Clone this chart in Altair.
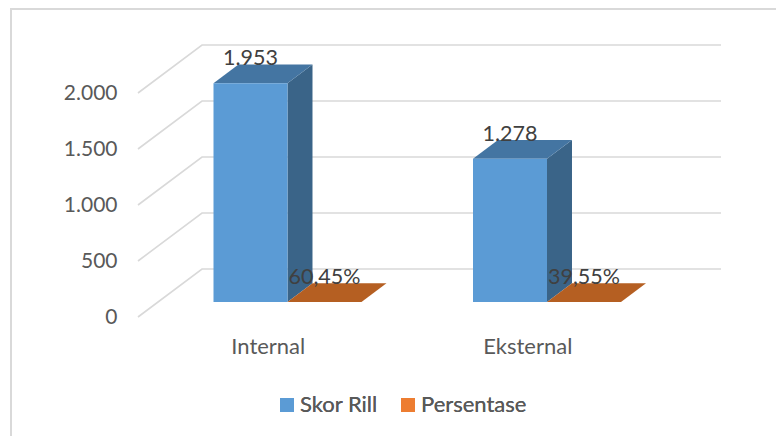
import altair as alt
import pandas as pd

categories = ["Internal", "Eksternal"]
series = ["Skor Rill", "Persentase"]
skor_rill = [1953, 1278]
persentase = [0.6045, 0.3955]
skor_labels = ["1.953", "1.278"]
persen_labels = ["60,45%", "39,55%"]
y_ticks = [0, 500, 1000, 1500, 2000]

FONT = "Lato"
FRONT = {"Skor Rill": "#5B9BD5", "Persentase": "#ED7D31"}
SIDE = {"Skor Rill": "#3A6488", "Persentase": "#9C5220"}
TOP = {"Skor Rill": "#4475A2", "Persentase": "#B55F22"}

# Oblique projection: one unit of depth shifts a point right and up the value axis.
PX_PER_VALUE = 56 / 500
BAND_PX = 259.5
WALL_X = 64 / BAND_PX
WALL_Y = 48 / PX_PER_VALUE
BAR_WIDTH = 74 / BAND_PX
GAP = 55.5 / BAND_PX
BAR_NEAR = 0.3125
BAR_FAR = 0.703
N = len(categories)

x_scale = alt.Scale(domain=[0, N + WALL_X], range=[0, 583], nice=False, zero=False)
y_scale = alt.Scale(domain=[0, 2000 + WALL_Y], range=[272, 0], nice=False, zero=False)

# Every layer shares these position channels, so the axes merge cleanly.
x_pos = alt.X(
    "x:Q",
    scale=x_scale,
    axis=alt.Axis(
        values=[i + 0.5 for i in range(N)],
        labelExpr=f"{categories}[datum.value - 0.5]",
        title=None, domain=False, ticks=False, grid=False,
        labelFont=FONT, labelFontSize=22, labelColor="#595959", labelPadding=19,
    ),
)
y_pos = alt.Y(
    "y:Q",
    scale=y_scale,
    axis=alt.Axis(
        values=y_ticks,
        labelExpr="replace(format(datum.value, ','), ',', '.')",
        title=None, domain=False, ticks=False, grid=False,
        labelFont=FONT, labelFontSize=21, labelColor="#595959", labelPadding=21,
    ),
)

# Floor diagonals and back-wall lines for each tick value.
grid_rows = []
for tick in y_ticks:
    for step, (gx, gy) in enumerate([(0, tick), (WALL_X, tick + WALL_Y), (N + WALL_X, tick + WALL_Y)]):
        grid_rows.append({"tick": tick, "step": step, "x": gx, "y": gy})
grid = (
    alt.Chart(pd.DataFrame(grid_rows))
    .mark_line(color="#D9D9D9", strokeWidth=1.6)
    .encode(x=x_pos, y=y_pos, detail="tick:N", order="step:Q")
)

# Build the faces of every column from its value.
front_rows, side_rows, top_rows, label_rows = [], [], [], []
for i, cat in enumerate(categories):
    for j, (name, values, labels) in enumerate(
        [(series[0], skor_rill, skor_labels), (series[1], persentase, persen_labels)]
    ):
        value = values[i]
        left = i + GAP + j * BAR_WIDTH
        right = left + BAR_WIDTH
        near_x, near_y = BAR_NEAR * WALL_X, BAR_NEAR * WALL_Y
        far_x, far_y = BAR_FAR * WALL_X, BAR_FAR * WALL_Y
        key = f"{cat}-{name}"
        front_rows.append({
            "series": name, "x": left + near_x, "x2": right + near_x,
            "y": value + near_y, "y2": near_y,
        })
        for dx, dy in [(near_x, near_y), (far_x, far_y)]:
            side_rows.append({
                "key": key, "shade": SIDE[name], "x": right + dx,
                "y": value + dy, "y2": dy,
            })
            top_rows.append({
                "key": key, "shade": TOP[name], "x": left + dx, "x2": right + dx,
                "y": value + dy,
            })
        label_rows.append({
            "text": labels[i], "x": (left + right) / 2 + near_x, "y": value + near_y,
        })

side_df = pd.DataFrame(side_rows)
top_df = pd.DataFrame(top_rows)
front_df = pd.DataFrame(front_rows)

layers = [grid]
for name in series:
    side = (
        alt.Chart(side_df[side_df["key"].str.endswith(name)])
        .mark_area(orient="vertical")
        .encode(x=x_pos, y=y_pos, y2="y2:Q",
                color=alt.Color("shade:N", scale=None), detail="key:N")
    )
    top = (
        alt.Chart(top_df[top_df["key"].str.endswith(name)])
        .mark_area(orient="horizontal")
        .encode(y=y_pos, x=x_pos, x2="x2:Q",
                color=alt.Color("shade:N", scale=None), detail="key:N")
    )
    front = (
        alt.Chart(front_df[front_df["series"] == name])
        .mark_rect()
        .encode(
            x=x_pos, x2="x2:Q", y=y_pos, y2="y2:Q",
            color=alt.Color(
                "series:N",
                scale=alt.Scale(domain=series, range=[FRONT[s] for s in series]),
                legend=alt.Legend(
                    title=None, orient="none", legendX=138, legendY=349,
                    direction="horizontal", symbolType="square", symbolSize=196,
                    symbolStrokeWidth=0, labelFont=FONT, labelFontSize=22,
                    labelColor="#595959", labelOffset=2, columnPadding=19,
                    values=series,
                ),
            ),
        )
    )
    layers += [side, top, front]

labels = (
    alt.Chart(pd.DataFrame(label_rows))
    .mark_text(font=FONT, fontSize=21.5, color="#404040", baseline="bottom", align="center", dy=-13)
    .encode(x=x_pos, y=y_pos, text="text:N")
)
layers.append(labels)

# Light outline around the chart area; its right and bottom edges run off the page.
frame = alt.Chart(pd.DataFrame({"a": [0]})).mark_rect(
    fillOpacity=0, stroke="#D9D9D9", strokeWidth=2
).encode(x=alt.value(-127), x2=alt.value(700), y=alt.value(-36), y2=alt.value(450))

chart = (
    alt.layer(frame, *layers)
    .resolve_scale(color="independent")
    .properties(
        width=583, height=272, autosize="none", background="white",
        padding={"left": 138, "top": 45, "right": 55, "bottom": 119},
    )
    .configure_view(strokeWidth=0)
)

chart.save("out.html", embed_options={"renderer": "svg", "actions": False})
